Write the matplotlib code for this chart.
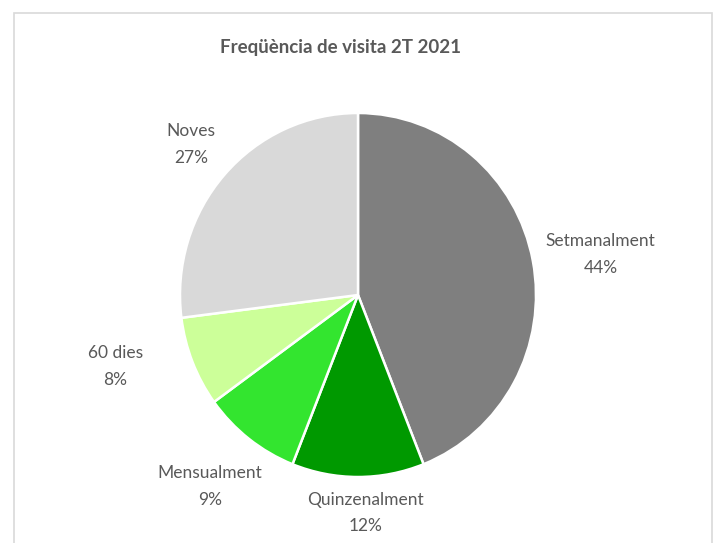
import numpy as np
import matplotlib.pyplot as plt
from matplotlib.patches import Rectangle

categories = ["Setmanalment", "Quinzenalment", "Mensualment", "60 dies", "Noves"]
values = [44, 12, 9, 8, 27]
colors = ["#7f7f7f", "#009900", "#33e52f", "#ccff99", "#d9d9d9"]
title = "Freqüència de visita 2T 2021"

# label placement: distance in pie radii and angle nudge in degrees
label_dist = [1.38, 1.20, 1.34, 1.42, 1.25]
label_nudge = [-1.5, 2.0, -0.5, -5.5, 0.0]

plt.rcParams['font.family'] = ['Lato', 'DejaVu Sans']

fig = plt.figure(figsize=(7.18, 5.43), dpi=100)
fig.patch.set_facecolor("white")

# chart frame, bottom edge is cut off in the original
fig.add_artist(Rectangle((14/718, -0.1), (712-14)/718, 1.1 - 13/543,
                         transform=fig.transFigure, fill=False,
                         edgecolor="#d9d9d9", linewidth=1.2))

ax = fig.add_axes([180/718, 66/543, 356/718, 364/543])
wedges, _ = ax.pie(values, colors=colors, startangle=90, counterclock=False,
                   wedgeprops=dict(edgecolor="white", linewidth=1.8))
ax.set_aspect("auto")
ax.set_xlim(-1, 1)
ax.set_ylim(-1, 1)

total = sum(values)
for w, name, v, d, nd in zip(wedges, categories, values, label_dist, label_nudge):
    ang = np.deg2rad((w.theta1 + w.theta2) / 2 + nd)
    x, y = d * np.cos(ang), d * np.sin(ang)
    ax.text(x, y, f"{name}\n{round(100 * v / total)}%", ha="center", va="center",
            fontsize=12.5, color="#595959", linespacing=1.8)

fig.text(340/718, 1 - 47/543, title, ha="center", va="center",
         fontsize=13.5, fontweight="bold", color="#595959")

fig.savefig("out.png", dpi=100)
